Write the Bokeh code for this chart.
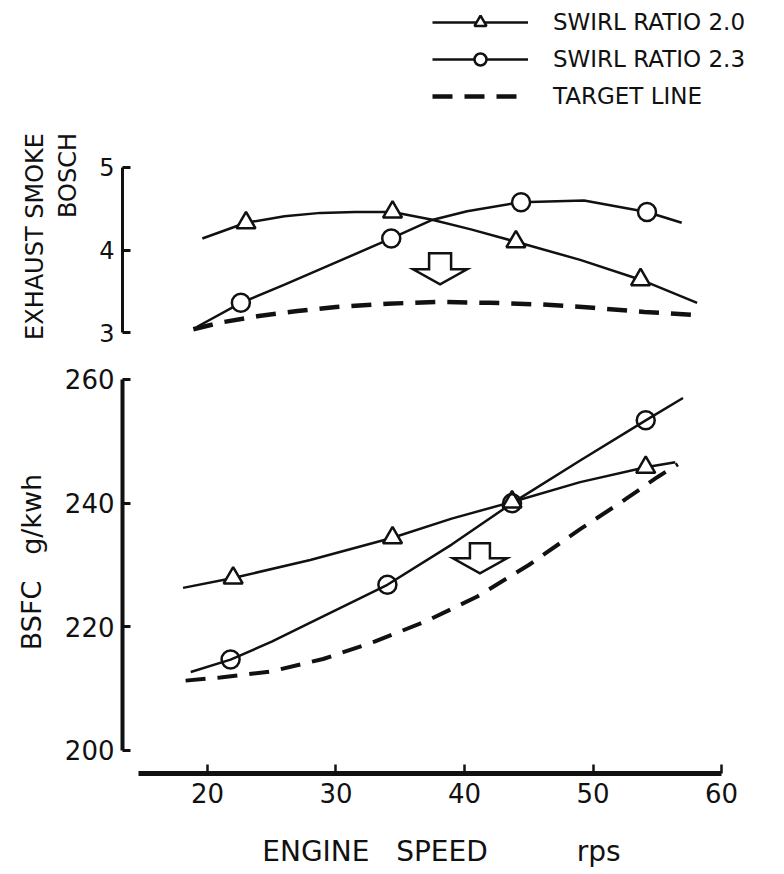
import numpy as np
from bokeh.plotting import figure
from bokeh.models import Range1d, LinearAxis, FixedTicker, Legend, LegendItem
from bokeh.layouts import column
from bokeh.embed import file_html
from bokeh.resources import INLINE

# ---------------- data ----------------
rps_ticks = [20, 30, 40, 50, 60]
smoke_ticks = [3, 4, 5]
bsfc_ticks = [200, 220, 240, 260]

# Exhaust smoke (Bosch)
smoke_sr20_x = [23.0, 34.4, 44.0, 53.7]
smoke_sr20_y = [4.33, 4.46, 4.10, 3.64]
smoke_sr20_curve_x = [19.6, 23.0, 26.0, 28.8, 31.5, 34.4, 37.4, 40.5, 44.0, 49.0, 53.7, 58.1]
smoke_sr20_curve_y = [4.14, 4.33, 4.41, 4.45, 4.46, 4.46, 4.37, 4.25, 4.10, 3.88, 3.64, 3.36]

smoke_sr23_x = [22.6, 34.3, 44.4, 54.2]
smoke_sr23_y = [3.36, 4.14, 4.58, 4.46]
smoke_sr23_curve_x = [19.2, 22.6, 26.0, 30.0, 34.3, 37.4, 40.2, 44.4, 49.3, 54.2, 56.9]
smoke_sr23_curve_y = [3.07, 3.36, 3.58, 3.85, 4.14, 4.36, 4.47, 4.58, 4.60, 4.46, 4.33]

smoke_target_x = [18.9, 21.0, 24.0, 27.0, 30.0, 34.0, 38.0, 42.0, 46.0, 50.0, 54.0, 58.0]
smoke_target_y = [3.04, 3.12, 3.20, 3.26, 3.31, 3.35, 3.37, 3.36, 3.34, 3.30, 3.25, 3.21]

# BSFC g/kWh
bsfc_sr20_x = [22.0, 34.4, 43.7, 54.1]
bsfc_sr20_y = [227.9, 234.4, 240.2, 245.8]
bsfc_sr20_curve_x = [18.1, 22.0, 28.0, 34.4, 39.0, 43.7, 49.0, 54.1, 56.4]
bsfc_sr20_curve_y = [226.3, 227.9, 230.8, 234.4, 237.5, 240.2, 243.4, 245.8, 246.6]

bsfc_sr23_x = [21.8, 34.0, 43.7, 54.1]
bsfc_sr23_y = [214.7, 226.8, 240.0, 253.4]
bsfc_sr23_curve_x = [18.7, 21.8, 25.0, 28.6, 34.0, 39.0, 43.7, 49.0, 54.1, 57.0]
bsfc_sr23_curve_y = [212.7, 214.7, 217.6, 221.3, 226.8, 233.3, 240.0, 246.9, 253.4, 257.0]

bsfc_target_x = [18.3, 21.0, 25.0, 29.0, 33.0, 37.0, 41.0, 45.0, 49.0, 52.5, 55.0, 56.6]
bsfc_target_y = [211.3, 211.8, 212.8, 214.8, 217.6, 220.9, 224.9, 230.0, 235.8, 240.6, 244.2, 246.3]

# improvement arrows (anchor: top centre of the arrow, in data units)
smoke_arrow = (38.1, 3.96)
bsfc_arrow = (41.2, 233.5)

# ---------------- layout ----------------
FONT = "DejaVu Sans"
INK = "#111111"
NB = "\u00a0"
W = 784
LEFT, RIGHT = 122, 24
FRAME_W = W - LEFT - RIGHT
x_range = Range1d(13.39, 63.03)

TOP_H = 350
top_y = Range1d(2.782, 7.024)
BOT_H, BOT_B = 524, 101
bot_y = Range1d(196.28, 264.69)


def make_fig(h, yr, bottom):
    p = figure(width=W, height=h, x_range=x_range, y_range=yr,
               output_backend="svg", toolbar_location=None,
               x_axis_location=None, y_axis_location=None,
               min_border_left=LEFT, min_border_right=RIGHT,
               min_border_top=0, min_border_bottom=bottom)
    p.xgrid.visible = False
    p.ygrid.visible = False
    p.outline_line_color = None
    p.background_fill_color = "white"
    p.border_fill_color = "white"
    return p


def y_axis(bounds, ticks, size, lw):
    return LinearAxis(bounds=bounds, ticker=FixedTicker(ticks=ticks),
                      axis_line_width=lw, axis_line_color=INK,
                      major_tick_in=8, major_tick_out=0,
                      major_tick_line_width=3, major_tick_line_color=INK,
                      minor_tick_in=0, minor_tick_out=0,
                      major_label_standoff=8,
                      major_label_text_font=FONT,
                      major_label_text_font_size=size,
                      major_label_text_color=INK,
                      axis_label_text_font=FONT,
                      axis_label_text_font_style="normal",
                      axis_label_text_color=INK)


def arrow(p, anchor, frame_h, yr, shaft_half, shaft_h, head_half, head_h):
    sx = FRAME_W / (x_range.end - x_range.start)
    sy = frame_h / (yr.end - yr.start)
    shape = [(-shaft_half, 0), (shaft_half, 0), (shaft_half, shaft_h),
             (head_half, shaft_h), (0, shaft_h + head_h),
             (-head_half, shaft_h), (-shaft_half, shaft_h)]
    xs = [anchor[0] + dx / sx for dx, dy in shape]
    ys = [anchor[1] - dy / sy for dx, dy in shape]
    p.patch(xs, ys, fill_color="white", line_color=INK, line_width=2.5,
            line_join="miter")


# ---------------- top panel: exhaust smoke ----------------
p1 = make_fig(TOP_H, top_y, 0)
ya1 = y_axis((3, 5), smoke_ticks, "24px", 3)
ya1.axis_label = ("EXHAUST SMOKE" + NB * 16 + "\n" +
                  NB * 16 + "BOSCH" + NB * 16)
ya1.axis_label_text_font_size = "24px"
ya1.axis_label_standoff = 14
p1.add_layout(ya1, "left")

l_t20 = p1.line(smoke_sr20_curve_x, smoke_sr20_curve_y, line_color=INK, line_width=2.5)
s_t20 = p1.scatter(smoke_sr20_x, smoke_sr20_y, marker="triangle", size=19,
                   fill_color="white", line_color=INK, line_width=2.5)
l_t23 = p1.line(smoke_sr23_curve_x, smoke_sr23_curve_y, line_color=INK, line_width=2.5)
s_t23 = p1.scatter(smoke_sr23_x, smoke_sr23_y, marker="circle", size=18,
                   fill_color="white", line_color=INK, line_width=2.5)
l_ttg = p1.line(smoke_target_x, smoke_target_y, line_color=INK, line_width=4.5,
                line_dash="20 12")
arrow(p1, smoke_arrow, TOP_H, top_y, 11, 16, 27, 15)

legend = Legend(items=[
    LegendItem(label="SWIRL RATIO 2.0", renderers=[l_t20, s_t20]),
    LegendItem(label="SWIRL RATIO 2.3", renderers=[l_t23, s_t23]),
    LegendItem(label="TARGET LINE", renderers=[l_ttg]),
], location=(310, 239), glyph_width=96, glyph_height=30, label_height=30,
    label_standoff=25, spacing=7, padding=0, margin=0,
    border_line_color=None, background_fill_alpha=0,
    label_text_font=FONT, label_text_font_size="23px", label_text_color=INK)
p1.add_layout(legend)

# ---------------- bottom panel: BSFC ----------------
p2 = make_fig(BOT_H, bot_y, BOT_B)
ya2 = y_axis((200, 260), bsfc_ticks, "26px", 4)
ya2.axis_label = "BSFC" + NB * 3 + "g/kwh"
ya2.axis_label_text_font_size = "27px"
ya2.axis_label_standoff = 15
p2.add_layout(ya2, "left")

xa = LinearAxis(bounds=(14.6, 60), ticker=FixedTicker(ticks=rps_ticks),
                axis_line_width=5, axis_line_color=INK,
                major_tick_in=9, major_tick_out=0,
                major_tick_line_width=2.5, major_tick_line_color=INK,
                minor_tick_in=0, minor_tick_out=0,
                major_label_standoff=9, major_label_text_font=FONT,
                major_label_text_font_size="26px", major_label_text_color=INK,
                axis_label="ENGINE" + NB * 3 + "SPEED" + NB * 10 + "rps",
                axis_label_text_font=FONT, axis_label_text_font_style="normal",
                axis_label_text_font_size="28px", axis_label_text_color=INK,
                axis_label_standoff=29)
p2.add_layout(xa, "below")

p2.line(bsfc_sr20_curve_x, bsfc_sr20_curve_y, line_color=INK, line_width=2.5)
p2.line(bsfc_sr23_curve_x, bsfc_sr23_curve_y, line_color=INK, line_width=2.5)
p2.line(bsfc_target_x, bsfc_target_y, line_color=INK, line_width=4,
        line_dash="20 12")
p2.scatter(bsfc_sr20_x, bsfc_sr20_y, marker="triangle", size=19,
           fill_color="white", line_color=INK, line_width=2.5)
p2.scatter(bsfc_sr23_x, bsfc_sr23_y, marker="circle", size=18,
           fill_color=None, line_color=INK, line_width=2.5)
arrow(p2, bsfc_arrow, BOT_H - BOT_B, bot_y, 10, 15, 27, 15)

layout = column(p1, p2, spacing=0)
open("out.html", "w").write(file_html(layout, INLINE))
